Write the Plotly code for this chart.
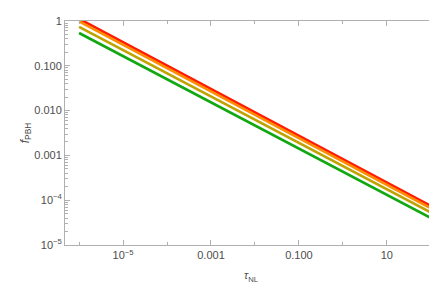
import plotly.graph_objects as go

# tau_NL endpoints and f_PBH values (straight lines in log-log)
tau_nl = [1e-6, 1e2]
f_red = [1.12, 7.4e-5]
f_orange = [0.98, 6.6e-5]
f_olive = [0.74, 5.3e-5]
f_green = [0.54, 4.0e-5]

series = [
    ("red", f_red, "#ff1a00"),
    ("orange", f_orange, "#ff8c00"),
    ("olive", f_olive, "#bfa300"),
    ("green", f_green, "#12a812"),
]

x_ticks = [1e-5, 1e-3, 1e-1, 10]
x_labels = ["10<sup>\u22125</sup>", "0.001", "0.100", "10"]
y_ticks = [1, 0.1, 0.01, 0.001, 1e-4, 1e-5]
y_labels = ["1", "0.100", "0.010", "0.001", "10<sup>\u22124</sup>", "10<sup>\u22125</sup>"]

fig = go.Figure()
for name, vals, col in series:
    fig.add_trace(go.Scatter(x=tau_nl, y=vals, mode="lines", name=name,
                             line=dict(color=col, width=2.6)))

# minor ticks
x_minor = [10.0 ** k for k in range(-6, 3) if 10.0 ** k not in x_ticks]
y_minor = [m * 10.0 ** k for k in range(-5, 0) for m in range(2, 10)]

axis_common = dict(showline=True, linecolor="#b0b0b0", linewidth=1, mirror="allticks",
                   ticks="inside", ticklen=5, tickcolor="#b0b0b0", showgrid=False,
                   zeroline=False, tickfont=dict(family="Liberation Sans", size=11, color="#4d4d4d"))

fig.update_xaxes(type="log", range=[-6.32, 2.14], tickmode="array", tickvals=x_ticks,
                 ticktext=x_labels,
                 minor=dict(tickvals=x_minor, ticks="inside", ticklen=3, tickcolor="#b0b0b0"),
                 title=dict(text="<i>\u03c4</i><sub>NL</sub>", standoff=11,
                            font=dict(family="Liberation Sans", size=11, color="#4d4d4d")),
                 **axis_common)
fig.update_yaxes(type="log", range=[-5, 0], tickmode="array", tickvals=y_ticks,
                 ticktext=y_labels,
                 minor=dict(tickvals=y_minor, ticks="inside", ticklen=3, tickcolor="#b0b0b0"),
                 title=dict(text="<i>f</i><sub>PBH</sub>", standoff=2,
                            font=dict(family="Liberation Sans", size=12, color="#4d4d4d")),
                 **axis_common)

fig.update_layout(width=437, height=284, showlegend=False,
                  margin=dict(l=57, r=7, t=7, b=47),
                  paper_bgcolor="white", plot_bgcolor="white")

fig.write_html("out.html")
